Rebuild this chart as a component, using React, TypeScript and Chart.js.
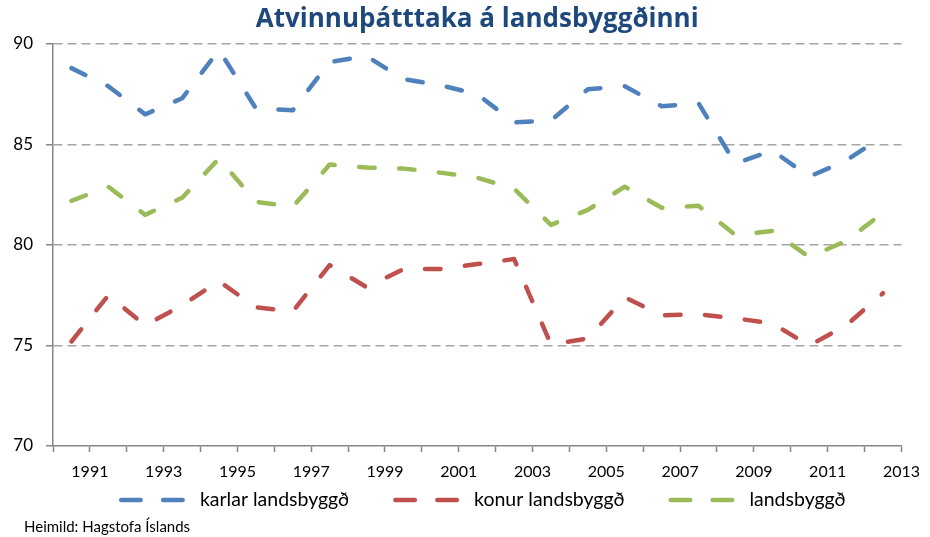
import React, { useEffect, useRef } from "react";
import { Chart, registerables } from "chart.js";

Chart.register(...registerables);

// Categories (years) and series values
const years = [1991, 1992, 1993, 1994, 1995, 1996, 1997, 1998, 1999, 2000, 2001, 2002, 2003, 2004, 2005, 2006, 2007, 2008, 2009, 2010, 2011, 2012, 2013];
const karlar = [88.8, 87.9, 86.5, 87.3, 89.7, 86.8, 86.7, 89.1, 89.4, 88.25, 87.95, 87.5, 86.1, 86.2, 87.75, 87.9, 86.9, 87.05, 84.05, 84.7, 83.4, 84.2, 85.4];
const konur = [75.2, 77.5, 76.0, 77.0, 78.2, 76.9, 76.7, 79.0, 77.9, 78.8, 78.8, 79.05, 79.3, 75.05, 75.35, 77.4, 76.5, 76.55, 76.35, 76.1, 75.0, 76.0, 77.6];
const landsbyggd = [82.2, 82.9, 81.5, 82.35, 84.3, 82.15, 81.9, 84.0, 83.85, 83.8, 83.6, 83.35, 82.8, 81.0, 81.75, 82.9, 81.85, 81.95, 80.5, 80.7, 79.4, 80.2, 81.6];
const seriesLabels = ["karlar landsbyggð", "konur landsbyggð", "landsbyggð"];
const xTickLabels = ["1991", "1993", "1995", "1997", "1999", "2001", "2003", "2005", "2007", "2009", "2011", "2013"];
const yTicks = [70, 75, 80, 85, 90];
const titleText = "Atvinnuþátttaka á landsbyggðinni";
const sourceText = "Heimild: Hagstofa Íslands";

const colors = ["#4f81bd", "#c0504d", "#9bbb59"];
const FONT = "Lato, 'Open Sans', sans-serif";
const TITLE_FONT = "'Open Sans', Lato, sans-serif";

// each category is drawn centred between ticks (Excel "between tick marks")
const toPoints = (vals: number[]) => vals.map((v, i) => ({ x: years[i] - 0.5, y: v }));

const legendPlugin = {
  id: "excelLegend",
  afterDraw(chart: any) {
    const ctx = chart.ctx as CanvasRenderingContext2D;
    const ds = chart.data.datasets;
    ctx.save();
    ctx.font = `19.5px ${FONT}`;
    const lineW = 66;
    const gapText = 15;
    const gapItem = 44;
    const widths = ds.map((d: any) => ctx.measureText(d.label).width);
    const total = ds.length * (lineW + gapText) + widths.reduce((a: number, b: number) => a + b, 0) + gapItem * (ds.length - 1);
    let x = (chart.chartArea.left + chart.chartArea.right) / 2 + 5 - total / 2;
    const y = 500;
    ds.forEach((d: any, i: number) => {
      ctx.strokeStyle = d.borderColor;
      ctx.lineWidth = d.borderWidth;
      ctx.lineCap = "round";
      ctx.setLineDash([19.5, 22.5]);
      ctx.beginPath();
      ctx.moveTo(x + 2.25, y);
      ctx.lineTo(x + lineW - 2.25, y);
      ctx.stroke();
      ctx.setLineDash([]);
      ctx.fillStyle = "#000";
      ctx.textBaseline = "middle";
      ctx.textAlign = "left";
      ctx.fillText(d.label, x + lineW + gapText, y);
      x += lineW + gapText + widths[i] + gapItem;
    });
    ctx.restore();
  },
};

export default function App() {
  const ref = useRef<HTMLCanvasElement | null>(null);

  useEffect(() => {
    if (!ref.current) return;
    const mk = (label: string, vals: number[], color: string) => ({
      label,
      data: toPoints(vals),
      borderColor: color,
      backgroundColor: color,
      borderWidth: 4.5,
      borderDash: [15.5, 24.5],
      borderCapStyle: "round" as const,
      borderJoinStyle: "round" as const,
      pointRadius: 0,
      tension: 0,
      fill: false,
    });
    const chart = new Chart(ref.current, {
      type: "line",
      data: {
        datasets: [
          mk(seriesLabels[0], karlar, colors[0]),
          mk(seriesLabels[1], konur, colors[1]),
          mk(seriesLabels[2], landsbyggd, colors[2]),
        ],
      },
      options: {
        animation: false,
        responsive: false,
        devicePixelRatio: 1,
        layout: { padding: { left: 0, right: 27, top: 0, bottom: 60 } },
        plugins: {
          legend: { display: false },
          tooltip: { enabled: false },
          title: {
            display: true,
            text: titleText,
            fullSize: false,
            color: "#1f497d",
            font: { family: TITLE_FONT, size: 26, weight: "bold", lineHeight: 1.2 },
            padding: { top: 4, bottom: 8.8 },
          },
        },
        scales: {
          x: {
            type: "linear",
            min: 1990,
            max: 2013,
            afterFit: (s: any) => {
              s.height = 31;
            },
            ticks: {
              stepSize: 1,
              autoSkip: false,
              maxRotation: 0,
              minRotation: 0,
              padding: 10,
              color: "#000",
              font: { family: FONT, size: 16 },
              callback: (v: any) => (xTickLabels.includes(String(v)) ? String(v) : ""),
            },
            grid: {
              drawOnChartArea: false,
              drawTicks: true,
              tickLength: 6,
              tickColor: "#868686",
              tickWidth: 1.5,
            },
            border: { display: true, color: "#868686", width: 1.5 },
          },
          y: {
            min: yTicks[0],
            max: yTicks[yTicks.length - 1],
            afterFit: (s: any) => {
              s.width = 53;
            },
            ticks: {
              stepSize: 5,
              padding: 13,
              color: "#000",
              font: { family: FONT, size: 17 },
            },
            grid: {
              color: (c: any) => (c.tick && c.tick.value === yTicks[0] ? "rgba(0,0,0,0)" : "#a6a6a6"),
              lineWidth: 1.5,
              drawTicks: true,
              tickLength: 7,
              tickColor: "#868686",
              tickWidth: 1.5,
              tickBorderDash: [],
            },
            border: { display: true, color: "#868686", width: 1.5, dash: [9, 5] },
          },
        },
      },
      plugins: [legendPlugin],
    } as any);
    return () => chart.destroy();
  }, []);

  return (
    <div style={{ position: "absolute", left: 0, top: 0, width: 930, height: 537, background: "#fff" }}>
      <canvas ref={ref} width={930} height={537} style={{ width: 930, height: 537, display: "block" }} />
      <div
        style={{
          position: "absolute",
          left: 24,
          top: 518,
          fontFamily: FONT,
          fontSize: 15,
          lineHeight: "16px",
          color: "#000",
          whiteSpace: "nowrap",
        }}
      >
        {sourceText}
      </div>
    </div>
  );
}
